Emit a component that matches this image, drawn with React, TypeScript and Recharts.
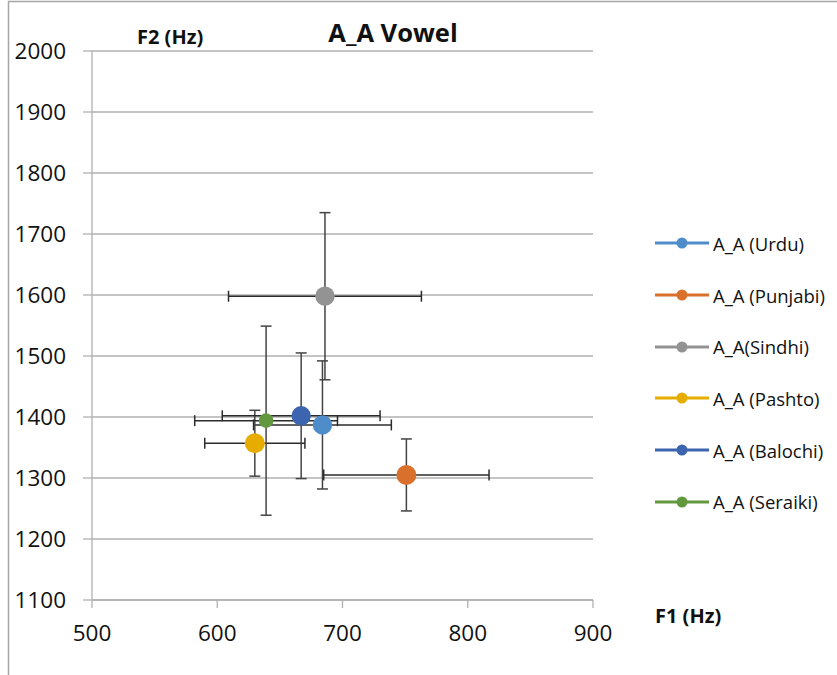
import { ScatterChart, Scatter, XAxis, YAxis, CartesianGrid, ErrorBar, Legend } from 'recharts';

// Mean formant values per language for the A_A vowel, with their spread
const languages = [
  'A_A (Urdu)',
  'A_A (Punjabi)',
  'A_A(Sindhi)',
  'A_A (Pashto)',
  'A_A (Balochi)',
  'A_A (Seraiki)',
];
const f1Mean = [684, 751, 686, 630, 667, 639];
const f2Mean = [1387, 1305, 1598, 1357, 1402, 1394];
const f1Spread = [55, 66, 77, 40, 63, 57];
const f2Spread = [105, 59, 137, 54, 103, 155];

const xTicks = [500, 600, 700, 800, 900];
const yTicks = [1100, 1200, 1300, 1400, 1500, 1600, 1700, 1800, 1900, 2000];

const seriesColors = ['#4F8DCA', '#D9702C', '#939393', '#E6AC00', '#3D65AF', '#62993E'];
const markerRadius = [9.7, 10, 9.7, 10, 9.7, 7.3];

const FONT = '"Open Sans", "DejaVu Sans", sans-serif';
const GRID = '#b0b0b0';

// legend keeps the series order instead of recharts' alphabetical sort
function LegendList() {
  return (
    <div style={{ display: 'flex', flexDirection: 'column', fontFamily: FONT }}>
      {languages.map((name, i) => (
        <div key={name} style={{ height: 51.7, display: 'flex', alignItems: 'center' }}>
          <svg width={58} height={14} style={{ flex: 'none' }}>
            <line x1={0} y1={7} x2={54} y2={7} stroke={seriesColors[i]} strokeWidth={3} />
            <circle cx={27} cy={7} r={5.5} fill={seriesColors[i]} />
          </svg>
          <span style={{ fontSize: 18.5, color: '#111', whiteSpace: 'nowrap' }}>{name}</span>
        </div>
      ))}
    </div>
  );
}

export default function App() {
  const series = languages.map((name, i) => ({
    name,
    data: [{ f1: f1Mean[i], f2: f2Mean[i], f1Err: f1Spread[i], f2Err: f2Spread[i] }],
  }));

  return (
    <div style={{ position: 'absolute', left: 0, top: 0, width: 837, height: 675, background: '#fff', fontFamily: FONT }}>
      <ScatterChart
        width={837}
        height={675}
        margin={{ top: 51, right: 244, bottom: 0, left: 0 }}
        style={{ fontFamily: FONT }}
      >
        <rect x={8.5} y={1.5} width={900} height={900} fill="none" stroke="#a6a6a6" strokeWidth={1.5} />
        <CartesianGrid vertical={false} stroke={GRID} strokeWidth={1.3} />
        <XAxis
          type="number"
          dataKey="f1"
          domain={[500, 900]}
          ticks={xTicks}
          interval={0}
          allowDataOverflow
          height={75}
          axisLine={{ stroke: GRID, strokeWidth: 1.3 }}
          tickLine={{ stroke: GRID, strokeWidth: 1.3 }}
          tickSize={8}
          tickMargin={17}
          tick={{ fill: '#111', fontSize: 22.5 }}
        />
        <YAxis
          type="number"
          dataKey="f2"
          domain={[1100, 2000]}
          ticks={yTicks}
          interval={0}
          allowDataOverflow
          width={92}
          axisLine={{ stroke: GRID, strokeWidth: 1.3 }}
          tickLine={{ stroke: GRID, strokeWidth: 1.3 }}
          tickSize={9}
          tickMargin={17}
          tick={{ fill: '#111', fontSize: 22.5 }}
        />
        {series.map((s, i) => (
          <Scatter
            key={s.name}
            name={s.name}
            data={s.data}
            fill={seriesColors[i]}
            isAnimationActive={false}
            shape={(p: any) => <circle cx={p.cx} cy={p.cy} r={markerRadius[i]} fill={seriesColors[i]} />}
          >
            <ErrorBar dataKey="f1Err" direction="x" width={5.5} stroke="#2b2b2b" strokeWidth={1.5} isAnimationActive={false} />
            <ErrorBar dataKey="f2Err" direction="y" width={5.5} stroke="#444" strokeWidth={1.5} isAnimationActive={false} />
          </Scatter>
        ))}
        <Legend
          layout="vertical"
          align="center"
          verticalAlign="middle"
          content={<LegendList />}
          wrapperStyle={{ left: 655, top: 217.5, width: 182 }}
        />
        <text x={393} y={42} textAnchor="middle" fontSize={25.5} fontWeight={700} fill="#111" fontFamily={FONT}>
          A_A Vowel
        </text>
        <text x={137} y={44} fontSize={20} fontWeight={700} fill="#111" fontFamily={FONT}>
          F2 (Hz)
        </text>
        <text x={655} y={623} fontSize={20} fontWeight={700} fill="#111" fontFamily={FONT}>
          F1 (Hz)
        </text>
      </ScatterChart>
    </div>
  );
}
